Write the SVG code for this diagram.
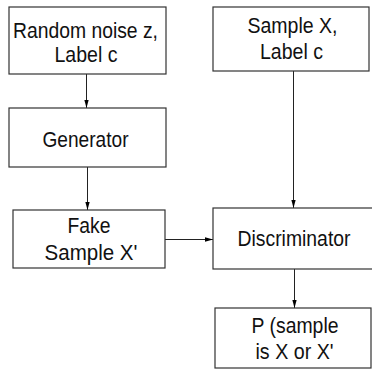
<svg xmlns="http://www.w3.org/2000/svg" width="372" height="369" viewBox="0 0 372 369">
  <style>
    .box { fill: #ffffff; stroke: #333333; stroke-width: 1.2; }
    .lbl { font-family: "Liberation Sans", Arial, sans-serif; font-size: 21.5px; fill: #111111; text-anchor: middle; }
    .wire { stroke: #222222; stroke-width: 1; fill: none; marker-end: url(#tip); }
  </style>
  <defs>
    <marker id="tip" markerWidth="8" markerHeight="15" refX="15" refY="4" viewBox="0 0 15 8" orient="auto" markerUnits="userSpaceOnUse">
      <path d="M0,0 L15,4 L0,8 Z" fill="#000000"/>
    </marker>
  </defs>
  <rect width="372" height="369" fill="#ffffff"/>

  <g id="connectors">
    <line class="wire" x1="86.5" y1="74" x2="86.5" y2="108"/>
    <line class="wire" x1="87.5" y1="167" x2="87.5" y2="210"/>
    <line class="wire" x1="293.5" y1="71" x2="293.5" y2="208"/>
    <line class="wire" x1="165" y1="239.5" x2="213" y2="239.5"/>
    <line class="wire" x1="294.5" y1="269" x2="294.5" y2="308"/>
  </g>

  <g id="noise">
    <rect class="box" x="9" y="7" width="157" height="67"/>
    <text class="lbl" x="85.5" y="37.5" textLength="145" lengthAdjust="spacingAndGlyphs">Random noise z,</text>
    <text class="lbl" x="86" y="62" textLength="63" lengthAdjust="spacingAndGlyphs">Label c</text>
  </g>

  <g id="generator">
    <rect class="box" x="9" y="108" width="157" height="59"/>
    <text class="lbl" x="85.5" y="147" textLength="86" lengthAdjust="spacingAndGlyphs">Generator</text>
  </g>

  <g id="fake">
    <rect class="box" x="13" y="210" width="152" height="58"/>
    <text class="lbl" x="89" y="233" textLength="43" lengthAdjust="spacingAndGlyphs">Fake</text>
    <text class="lbl" x="91" y="260" textLength="93" lengthAdjust="spacingAndGlyphs">Sample X'</text>
  </g>

  <g id="sample">
    <rect class="box" x="213" y="7" width="156" height="64"/>
    <text class="lbl" x="292.5" y="33" textLength="90" lengthAdjust="spacingAndGlyphs">Sample X,</text>
    <text class="lbl" x="291.5" y="59" textLength="63" lengthAdjust="spacingAndGlyphs">Label c</text>
  </g>

  <g id="discriminator">
    <rect class="box" x="213" y="208" width="162" height="61"/>
    <text class="lbl" x="294" y="246" textLength="113" lengthAdjust="spacingAndGlyphs">Discriminator</text>
  </g>

  <g id="probability">
    <rect class="box" x="215" y="308" width="156" height="60"/>
    <text class="lbl" x="295" y="333" textLength="87" lengthAdjust="spacingAndGlyphs">P (sample</text>
    <text class="lbl" x="294.5" y="359" textLength="78" lengthAdjust="spacingAndGlyphs">is X or X'</text>
  </g>
</svg>
